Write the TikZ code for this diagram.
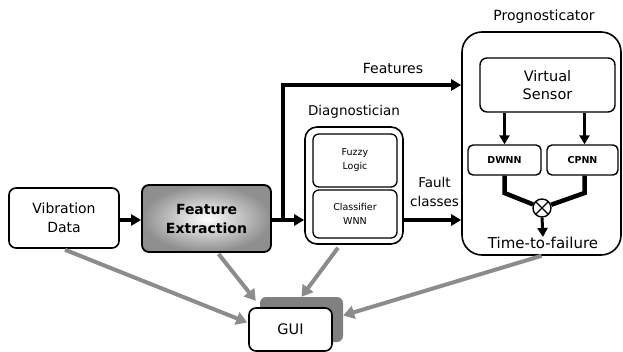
\documentclass[tikz,border=0pt]{standalone}
\usepackage{fontspec}
\setmainfont{DejaVu Sans}
\usetikzlibrary{arrows.meta,calc}

\definecolor{linkgray}{HTML}{8C8C8C}
\definecolor{shadowgray}{HTML}{808080}

\tikzset{
  box/.style={draw, line width=1.6pt, rounded corners=7pt, fill=white,
    align=center, inner sep=0pt},
  subbox/.style={box, line width=1.3pt, rounded corners=6pt,
    font=\fontsize{9.5}{14}\selectfont},
  bigfont/.style={font=\fontsize{14}{19}\selectfont},
  flow/.style={line width=4pt, -{Triangle[length=10pt,width=11pt]}},
  thinflow/.style={line width=3pt, -{Triangle[length=9pt,width=10pt]}},
  feed/.style={line width=4pt, draw=linkgray, -{Triangle[length=11pt,width=13pt]}},
  label/.style={align=center, inner sep=0pt}
}

\begin{document}
\begin{tikzpicture}[x=1pt,y=-1pt]
\useasboundingbox (0,0) rectangle (623,352);

% acquisition and feature stage
\node[box, bigfont, minimum width=110pt, minimum height=60pt] (vib) at (64,218) {Vibration\\Data};
\node[box, line width=1.8pt, inner color=white, outer color=black!44,
      font=\fontsize{14}{19}\selectfont\bfseries,
      minimum width=129pt, minimum height=67pt] (fe) at (206.5,218.5) {Feature\\Extraction};

% diagnostician
\node[box, rounded corners=12pt, minimum width=98pt, minimum height=117pt] (diag) at (354,185.5) {};
\node[label, font=\fontsize{13.5}{16}\selectfont] (diaglbl) at (354,112) {Diagnostician};
\node[subbox, minimum width=84pt, minimum height=53pt] (fuzzy) at (355,160.5) {Fuzzy\\Logic};
\node[subbox, minimum width=84pt, minimum height=48pt] (cls) at (355,214) {Classifier\\WNN};

% prognosticator
\node[box, rounded corners=20pt, minimum width=159pt, minimum height=223pt] (prog) at (541.5,143.5) {};
\node[label, font=\fontsize{14}{16}\selectfont] (proglbl) at (544,17) {Prognosticator};
\node[box, line width=1.4pt, font=\fontsize{14.5}{18}\selectfont,
      minimum width=135pt, minimum height=54pt] (vs) at (547.5,85) {Virtual\\Sensor};
\node[box, line width=1.4pt, rounded corners=5pt, font=\fontsize{9.5}{12}\selectfont\bfseries,
      minimum width=73pt, minimum height=30pt] (dwnn) at (504.5,160) {DWNN};
\node[box, line width=1.4pt, rounded corners=5pt, font=\fontsize{9.5}{12}\selectfont\bfseries,
      minimum width=71pt, minimum height=30pt] (cpnn) at (582.5,160) {CPNN};
\node[circle, draw, line width=1.4pt, fill=white, minimum size=18pt, inner sep=0pt,
      path picture={\draw[line width=1.2pt]
        (path picture bounding box.north west) -- (path picture bounding box.south east)
        (path picture bounding box.north east) -- (path picture bounding box.south west);}]
      (mult) at (542,208) {};
\node[label, font=\fontsize{15}{18}\selectfont] (ttf) at (543,243) {Time-to-failure};

% operator interface with its drop shadow
\node[draw=none, fill=shadowgray, rounded corners=6pt, minimum width=83pt, minimum height=45pt,
      inner sep=0pt] (sh) at (301.5,319.5) {};
\node[box, bigfont, font=\fontsize{14.5}{18}\selectfont, minimum width=83pt, minimum height=43pt] (gui) at (290.5,329.5) {GUI};

% main signal path
\coordinate (br) at (283,220);
\coordinate (ftop) at (283,85);
\draw[flow] (vib.east |- br) -- (fe.west |- br);
\draw[flow] (fe.east |- br) -- (diag.west |- br);
\draw[flow, line join=miter] (br) -- (ftop) -- (ftop -| prog.west);
\node[label, font=\fontsize{14}{16}\selectfont] (featlbl) at (393,68) {Features};
\draw[flow] (diag.east |- br) -- (prog.west |- br);
\node[label, font=\fontsize{13.5}{19}\selectfont] (faultlbl) at (434.5,192) {Fault\\classes};

% inside the prognosticator
\coordinate (dk) at (504.5,193);
\coordinate (ck) at (584.5,193);
\draw[thinflow] (vs.south -| dwnn.center) -- (dwnn.north);
\draw[thinflow] (vs.south -| ck) -- (ck |- cpnn.north);
\draw[line width=4.5pt, line join=miter] (dwnn.south) -- (dk) -- (mult);
\draw[line width=4.5pt, line join=miter] (ck |- cpnn.south) -- (ck) -- (mult);
\draw[thinflow] (mult.south) -- (ttf.north);

% links to the interface
\draw[feed] ($(vib.south)+(1,1)$) -- ($(gui.west)+(-1,-7)$);
\draw[feed] ($(fe.south)+(12,1)$) -- ($(sh.north west)+(-4,4)$);
\draw[feed] ($(diag.south)+(-16,3)$) -- (sh.north);
\draw[feed] (prog.south) -- ($(sh.east)+(0,-4)$);
\end{tikzpicture}
\end{document}
